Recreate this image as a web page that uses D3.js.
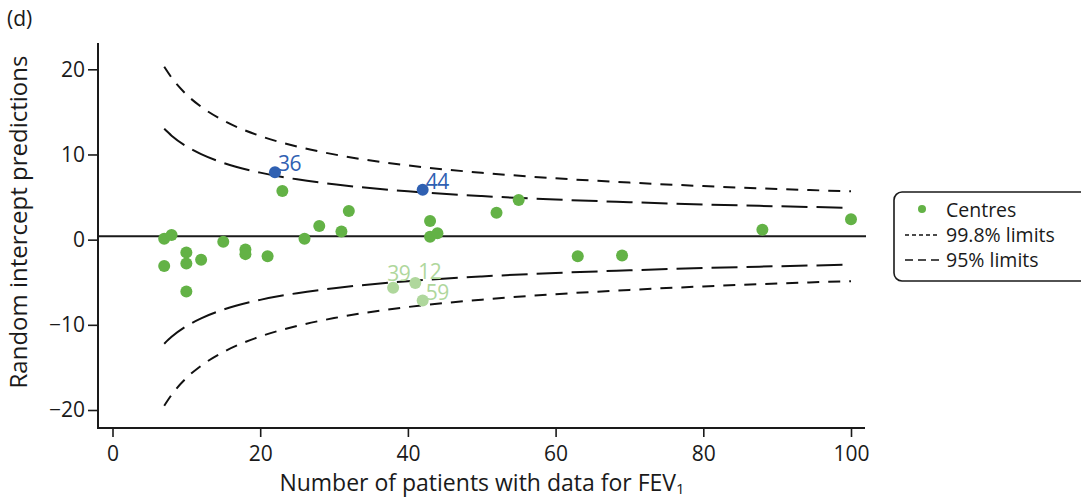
<!DOCTYPE html>
<html>
<head>
<meta charset="utf-8">
<script src="https://cdn.jsdelivr.net/npm/d3@7"></script>
<style>
  html, body { margin: 0; padding: 0; background: #fff; }
  svg { display: block; }
  text { font-family: "Open Sans", "Noto Sans", sans-serif; fill: #1a1a1a; }
</style>
</head>
<body>
<svg id="chart" width="1081" height="497"></svg>
<script>
// Centres: number of patients with FEV1 data and random intercept prediction
const centreN   = [7, 7, 8, 10, 10, 10, 12, 15, 18, 18, 21, 23, 26, 28, 31, 32, 43, 43, 44, 52, 55, 63, 69, 88, 100];
const centreVal = [0.1, -3.1, 0.55, -1.5, -2.8, -6.1, -2.35, -0.25, -1.15, -1.7, -1.95, 5.7, 0.1, 1.6, 0.95, 3.35, 2.2, 0.35, 0.75, 3.15, 4.65, -1.95, -1.85, 1.15, 2.4];

// Centres flagged above and below the 95% limits
const highN = [22, 42];
const highVal = [7.9, 5.85];
const highLabel = ["36", "44"];
const lowN = [38, 41, 42];
const lowVal = [-5.65, -5.1, -7.15];
const lowLabel = ["39", "12", "59"];

// Overall mean and control limits by centre size
const meanValue = 0.4;
const limitN      = [7, 8, 10, 12, 15, 20, 25, 30, 40, 50, 60, 70, 80, 90, 100];
const upper998    = [20.3, 19.02, 17.05, 15.6, 14.0, 12.17, 10.93, 10.01, 8.71, 7.85, 7.2, 6.7, 6.29, 5.95, 5.67];
const lower998    = [-19.5, -18.22, -16.25, -14.8, -13.2, -11.37, -10.13, -9.21, -7.91, -7.05, -6.4, -5.9, -5.49, -5.15, -4.87];
const upper95     = [13.02, 12.21, 10.96, 10.04, 9.02, 7.87, 7.08, 6.5, 5.67, 5.12, 4.71, 4.4, 4.13, 3.92, 3.74];
const lower95     = [-12.22, -11.41, -10.16, -9.24, -8.22, -7.07, -6.28, -5.7, -4.87, -4.32, -3.91, -3.6, -3.33, -3.12, -2.94];

const xTicks = [0, 20, 40, 60, 80, 100];
const yTicks = [20, 10, 0, -10, -20];

const GREEN = "#63b246", BLUE = "#2f60b2", LIGHT = "#afd79c";

const svg = d3.select("#chart");
const x = d3.scaleLinear().domain([0, 100]).range([112.5, 851]);
const y = d3.scaleLinear().domain([-20, 20]).range([410, 69.3]);

const axisLeftX = 98, axisBottomY = 428, plotTop = 43, plotRight = 865;

// axes
const yAxis = svg.append("g").attr("transform", `translate(${axisLeftX},0)`)
  .call(d3.axisLeft(y).tickValues(yTicks).tickSize(10).tickPadding(3)
    .tickFormat(d => d < 0 ? "\u2212" + Math.abs(d) : d));
yAxis.select(".domain").remove();
yAxis.selectAll("line").attr("stroke", "#1a1a1a").attr("stroke-width", 1.6);
yAxis.selectAll("text").style("font-size", "21px").style("font-family", "'Open Sans', sans-serif").attr("fill", "#1a1a1a");

const xAxis = svg.append("g").attr("transform", `translate(0,${axisBottomY})`)
  .call(d3.axisBottom(x).tickValues(xTicks).tickSize(9).tickPadding(9));
xAxis.select(".domain").remove();
xAxis.selectAll("line").attr("stroke", "#1a1a1a").attr("stroke-width", 1.6);
xAxis.selectAll("text").style("font-size", "21px").style("font-family", "'Open Sans', sans-serif").attr("fill", "#1a1a1a");

svg.append("line").attr("x1", axisLeftX).attr("x2", axisLeftX).attr("y1", plotTop).attr("y2", axisBottomY + 1)
  .attr("stroke", "#1a1a1a").attr("stroke-width", 2);
svg.append("line").attr("x1", axisLeftX - 1).attr("x2", plotRight).attr("y1", axisBottomY).attr("y2", axisBottomY)
  .attr("stroke", "#1a1a1a").attr("stroke-width", 2);

// mean line
svg.append("line").attr("x1", axisLeftX).attr("x2", plotRight + 1)
  .attr("y1", y(meanValue)).attr("y2", y(meanValue))
  .attr("stroke", "#1a1a1a").attr("stroke-width", 2);

// limits
const limitLine = vals => d3.line().curve(d3.curveMonotoneX)
  .x((d, i) => x(limitN[i])).y((d, i) => y(vals[i]))(vals);
[[upper998, "12,9"], [lower998, "12,9"], [upper95, "26,9"], [lower95, "26,9"]].forEach(([vals, dash]) => {
  svg.append("path").attr("d", limitLine(vals)).attr("fill", "none")
    .attr("stroke", "#111").attr("stroke-width", 2).attr("stroke-dasharray", dash);
});

// centres
svg.append("g").selectAll("circle").data(centreN).join("circle")
  .attr("cx", d => x(d)).attr("cy", (d, i) => y(centreVal[i])).attr("r", 6).attr("fill", GREEN);

const labelShift = { "39": [-9, -6], "12": [0, -3] };
function flagged(ns, vals, labels, colour) {
  const g = svg.append("g");
  g.selectAll("circle").data(ns).join("circle")
    .attr("cx", d => x(d)).attr("cy", (d, i) => y(vals[i])).attr("r", 6).attr("fill", colour);
  g.selectAll("text").data(ns).join("text")
    .attr("x", (d, i) => x(d) + 3 + (labelShift[labels[i]] || [0, 0])[0])
    .attr("y", (d, i) => y(vals[i]) - 1 + (labelShift[labels[i]] || [0, 0])[1])
    .style("font-size", "21px").style("letter-spacing", "-0.5px").style("fill", colour)
    .text((d, i) => labels[i]);
}
flagged(highN, highVal, highLabel, BLUE);
flagged(lowN, lowVal, lowLabel, LIGHT);

// titles
svg.append("text").attr("x", 7).attr("y", 26).style("font-size", "21px").text("(d)");
svg.append("text").attr("transform", `translate(27,222) rotate(-90)`)
  .attr("text-anchor", "middle").style("font-size", "24px").text("Random intercept predictions");
const xt = svg.append("text").attr("x", 482).attr("y", 491).attr("text-anchor", "middle").style("font-size", "23px");
xt.append("tspan").text("Number of patients with data for FEV");
xt.append("tspan").attr("dy", 3).style("font-size", "15px").text("1");

// legend
const lg = svg.append("g");
lg.append("rect").attr("x", 894).attr("y", 192).attr("width", 200).attr("height", 89).attr("rx", 8)
  .attr("fill", "#fff").attr("stroke", "#1a1a1a").attr("stroke-width", 1.6);
lg.append("circle").attr("cx", 922).attr("cy", 209).attr("r", 4).attr("fill", GREEN);
lg.append("line").attr("x1", 905).attr("x2", 940).attr("y1", 235).attr("y2", 235)
  .attr("stroke", "#111").attr("stroke-width", 1.5).attr("stroke-dasharray", "4,3");
lg.append("line").attr("x1", 905).attr("x2", 940).attr("y1", 260).attr("y2", 260)
  .attr("stroke", "#111").attr("stroke-width", 1.5).attr("stroke-dasharray", "8,5");
[["Centres", 210], ["99.8% limits", 235], ["95% limits", 260]].forEach(([t, cy]) => {
  lg.append("text").attr("x", 946).attr("y", cy + 7).style("font-size", "19.5px").text(t);
});
</script>
</body>
</html>
